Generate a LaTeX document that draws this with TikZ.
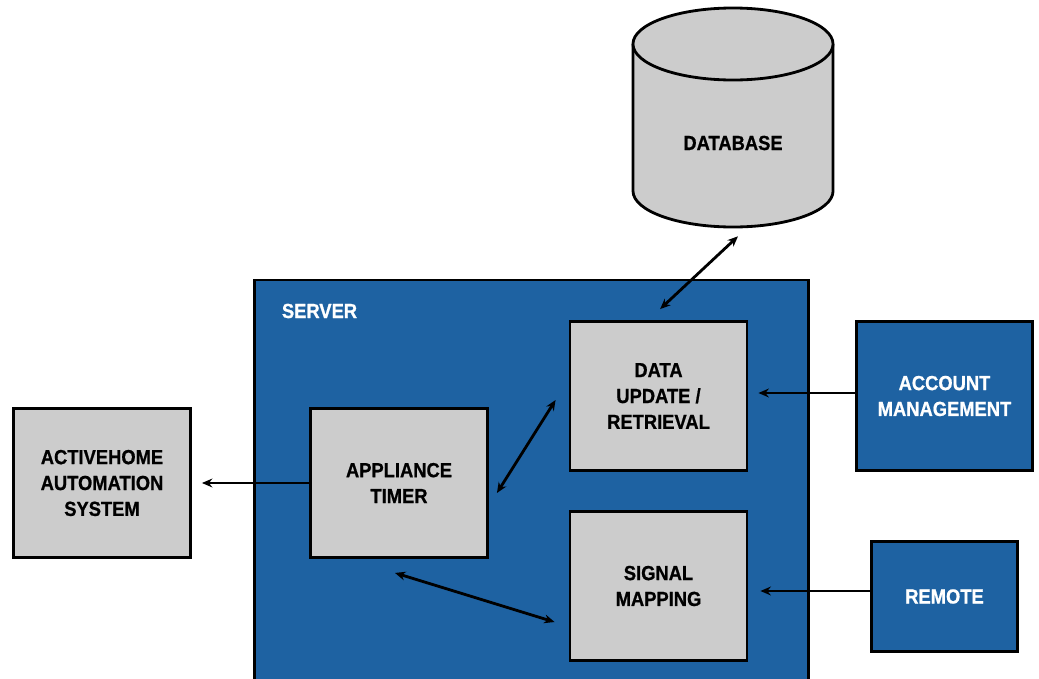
\documentclass[tikz,border=0pt]{standalone}
\usepackage{fontspec}
\setmainfont{Liberation Sans}[FakeStretch=0.9, BoldFeatures={FakeBold=0.8}]
\usetikzlibrary{arrows.meta,positioning,calc}
\definecolor{serverblue}{RGB}{30,98,162}
\definecolor{boxgray}{RGB}{204,204,204}

\begin{document}
\begin{tikzpicture}[
    x=0.025cm, y=-0.025cm,
    lbl/.style={font=\fontsize{14.5}{18.4}\selectfont\bfseries, align=center},
    gbox/.style={draw, line width=2pt, fill=boxgray, minimum width=4.425cm, minimum height=3.725cm, lbl},
    bbox/.style={draw, line width=2pt, fill=serverblue, text=white, lbl},
    arrow/.style={-{Stealth[length=2.6mm,width=2.2mm]}, line width=2pt},
    dbl/.style={{Stealth[length=2.6mm,width=2.2mm]}-{Stealth[length=2.6mm,width=2.2mm]}, line width=2pt},
]
    \clip (0,0) rectangle (1039,678);

    \node[bbox, minimum width=13.85cm, minimum height=10.5cm] (server) at (531.5,490) {};
    \node[lbl, text=white, anchor=west] (server_lbl) at (277,311) {SERVER};

    \fill[boxgray] (633,44) rectangle (833,191);
    \fill[boxgray] (733,191) ellipse [x radius=2.5cm, y radius=0.9cm];
    \draw[line width=2pt] (633,44) -- (633,191) arc[start angle=180, end angle=360, x radius=2.5cm, y radius=0.9cm] -- (833,44);
    \draw[line width=2pt, fill=boxgray] (733,44) ellipse [x radius=2.5cm, y radius=0.9cm];
    \node[lbl, minimum width=5cm, minimum height=4.2cm] (db) at (733,143) {DATABASE};

    \node[gbox] (data) at (658.5,396) {DATA\\UPDATE /\\RETRIEVAL};
    \node[gbox] (signal) at (658.5,586) {SIGNAL\\MAPPING};
    \node[gbox] (timer) at (399,483) {APPLIANCE\\TIMER};
    \node[gbox] (home) at (102,483) {ACTIVEHOME\\AUTOMATION\\SYSTEM};
    \node[bbox, minimum width=4.4cm, minimum height=3.725cm] (account) at (944.5,396) {ACCOUNT\\MANAGEMENT};
    \node[bbox, minimum width=3.65cm, minimum height=2.75cm] (remote) at (944.5,596.5) {REMOTE};

    \draw[dbl] ([xshift=0.125cm,yshift=-0.225cm]db.south) -- ([xshift=0.04cm,yshift=0.275cm]data.north);
    \draw[dbl] ([xshift=-0.325cm,yshift=-0.1cm]data.west) -- ([xshift=0.2cm,yshift=-0.25cm]timer.east);
    \draw[dbl] ([xshift=-0.1cm,yshift=-0.35cm]timer.south) -- ([xshift=-0.35cm,yshift=-0.9cm]signal.west);
    \draw[arrow] (timer.west) -- ([xshift=0.25cm]home.east);
    \draw[arrow] ($(account.west)+(0,-3)$) -- ($(data.east)+(10,-3)$);
    \draw[arrow] ($(remote.west)+(0,-5.5)$) -- ($(signal.east |- remote.west)+(12,-5.5)$);

\end{tikzpicture}
\end{document}
